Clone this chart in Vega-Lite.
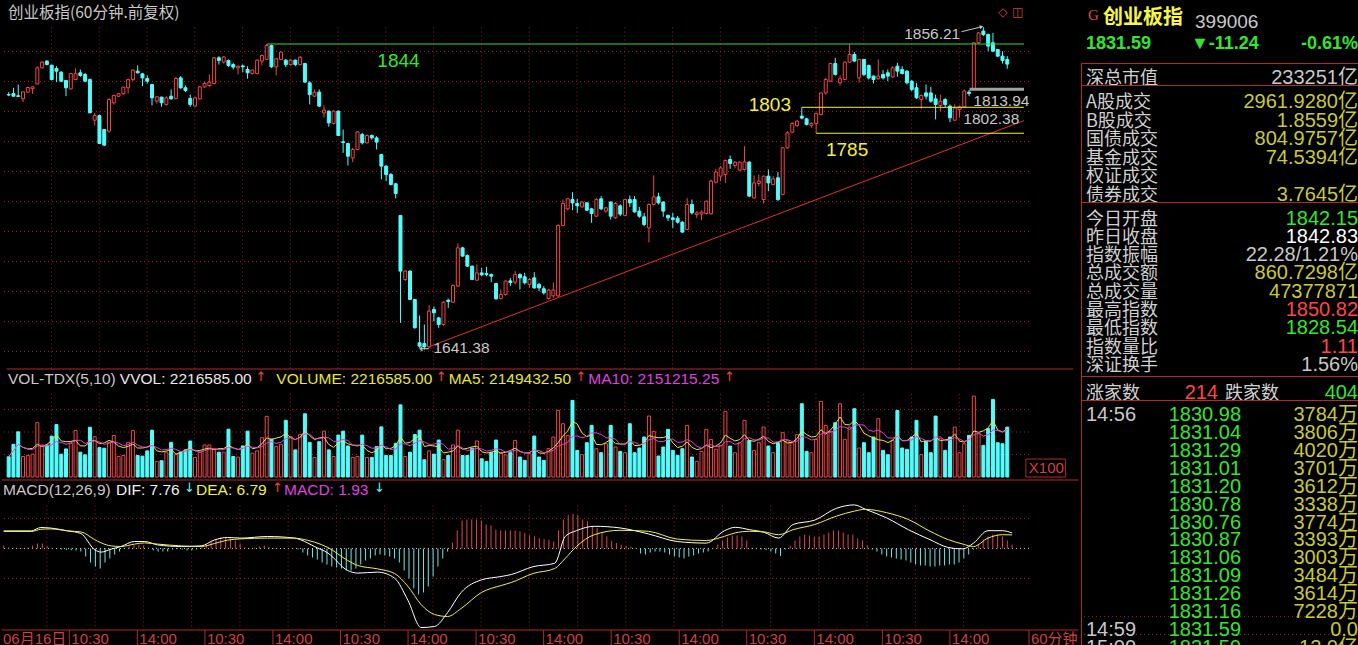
{
"$schema": "https://vega.github.io/schema/vega-lite/v6.json",
"background": "#000000",
"padding": 0,
"spacing": 0,
"resolve": {"scale": {"x": "independent", "y": "independent", "color": "independent"}},
"config": {"view": {"stroke": null}, "text": {"font": "Liberation Sans"}},
"datasets": {
"k": [
{"i":0,"o":1811.3,"h":1812.9,"l":1810.2,"c":1811,"v":8980,"m":1.5},
{"i":1,"o":1812,"h":1815.8,"l":1809.8,"c":1810.2,"v":14530,"m":0.5},
{"i":2,"o":1810.5,"h":1818,"l":1809.8,"c":1810,"v":20080,"m":0.3},
{"i":3,"o":1808.4,"h":1813.1,"l":1806.2,"c":1813.1,"v":9130,"m":0.2},
{"i":4,"o":1812.9,"h":1816.4,"l":1812.4,"c":1816,"v":9560,"m":0.3},
{"i":5,"o":1815.2,"h":1816.9,"l":1811.8,"c":1816.4,"v":10150,"m":0.5},
{"i":6,"o":1818.4,"h":1830.2,"l":1818,"c":1829.1,"v":24160,"m":1.5},
{"i":7,"o":1829.1,"h":1833.6,"l":1828.7,"c":1832.9,"v":14240,"m":2.5},
{"i":8,"o":1833.6,"h":1834.2,"l":1830.7,"c":1831.3,"v":14240,"m":2.5},
{"i":9,"o":1830.9,"h":1831,"l":1820.7,"c":1821.3,"v":18180,"m":1},
{"i":10,"o":1828.7,"h":1830.2,"l":1819.6,"c":1826.9,"v":23290,"m":0.3},
{"i":11,"o":1826.2,"h":1826.9,"l":1819.6,"c":1820.2,"v":10150,"m":-0.3},
{"i":12,"o":1820.7,"h":1820.7,"l":1810.2,"c":1815.8,"v":12480,"m":-0.5},
{"i":13,"o":1815.1,"h":1825.3,"l":1814.7,"c":1825.3,"v":14970,"m":-0.7},
{"i":14,"o":1821.3,"h":1828.7,"l":1820.9,"c":1825.3,"v":20660,"m":-0.8},
{"i":15,"o":1825.8,"h":1828,"l":1823.1,"c":1824,"v":11020,"m":-1},
{"i":16,"o":1824.7,"h":1825.8,"l":1819.6,"c":1820.2,"v":9860,"m":-1.5},
{"i":17,"o":1821.3,"h":1822,"l":1799,"c":1799.1,"v":22120,"m":-4},
{"i":18,"o":1794.2,"h":1799.1,"l":1790.7,"c":1797.3,"v":17890,"m":-7},
{"i":19,"o":1797.3,"h":1798,"l":1778.5,"c":1778.7,"v":13070,"m":-9},
{"i":20,"o":1788,"h":1788,"l":1776.9,"c":1777.6,"v":12780,"m":-10},
{"i":21,"o":1786.9,"h":1808.9,"l":1785.8,"c":1808,"v":15400,"m":-7},
{"i":22,"o":1805.8,"h":1811.3,"l":1804.7,"c":1810.7,"v":18470,"m":-5},
{"i":23,"o":1810.2,"h":1812.4,"l":1809.6,"c":1811.8,"v":9130,"m":-3},
{"i":24,"o":1811.8,"h":1816.4,"l":1811.3,"c":1816.2,"v":9560,"m":-1.5},
{"i":25,"o":1815.8,"h":1821.8,"l":1812,"c":1821.3,"v":15400,"m":-0.3},
{"i":26,"o":1821.3,"h":1828,"l":1820.2,"c":1827.6,"v":20660,"m":1},
{"i":27,"o":1826.9,"h":1830.7,"l":1825.3,"c":1825.8,"v":9560,"m":2},
{"i":28,"o":1825.1,"h":1825.8,"l":1816.9,"c":1822.4,"v":9270,"m":2},
{"i":29,"o":1822,"h":1824,"l":1818.7,"c":1820.2,"v":11610,"m":1.5},
{"i":30,"o":1818,"h":1818.4,"l":1804,"c":1809.1,"v":20810,"m":0.5},
{"i":31,"o":1806.9,"h":1810.2,"l":1805.3,"c":1809.8,"v":6940,"m":-1},
{"i":32,"o":1809.6,"h":1809.8,"l":1803.1,"c":1805.8,"v":7230,"m":-1.5},
{"i":33,"o":1804.7,"h":1810.2,"l":1804,"c":1809.1,"v":11020,"m":-1.5},
{"i":34,"o":1810.2,"h":1814.7,"l":1808,"c":1808.4,"v":15400,"m":-1.5},
{"i":35,"o":1808.7,"h":1823.1,"l":1808,"c":1822,"v":10150,"m":-0.5},
{"i":36,"o":1822.4,"h":1823.6,"l":1815.1,"c":1815.8,"v":11020,"m":-0.3},
{"i":37,"o":1815.8,"h":1817.3,"l":1812.9,"c":1814,"v":12050,"m":-0.5},
{"i":38,"o":1808.7,"h":1811.3,"l":1803.1,"c":1804.7,"v":15990,"m":-1},
{"i":39,"o":1803.6,"h":1809.8,"l":1803.1,"c":1809.1,"v":8690,"m":-1},
{"i":40,"o":1808.4,"h":1816.9,"l":1808,"c":1816.4,"v":11020,"m":-0.5},
{"i":41,"o":1816.4,"h":1819.6,"l":1815.8,"c":1818.7,"v":14240,"m":0.5},
{"i":42,"o":1817.3,"h":1824.7,"l":1816.4,"c":1819.6,"v":14240,"m":2},
{"i":43,"o":1818.7,"h":1836.2,"l":1818,"c":1835.8,"v":12480,"m":3.5},
{"i":44,"o":1835.8,"h":1836.9,"l":1831.3,"c":1834,"v":11020,"m":4.5},
{"i":45,"o":1832.9,"h":1836.9,"l":1832,"c":1836.4,"v":11020,"m":5.5},
{"i":46,"o":1834,"h":1834.7,"l":1829.6,"c":1830.7,"v":21240,"m":5.5},
{"i":47,"o":1831.3,"h":1832.4,"l":1828,"c":1829.6,"v":9130,"m":5},
{"i":48,"o":1829.1,"h":1830.7,"l":1824.7,"c":1830.2,"v":8830,"m":4},
{"i":49,"o":1830.4,"h":1831.3,"l":1826.2,"c":1829.8,"v":13800,"m":2.5},
{"i":50,"o":1828,"h":1830.2,"l":1821.8,"c":1825.8,"v":20370,"m":0.5},
{"i":51,"o":1825.3,"h":1828,"l":1824.7,"c":1827.6,"v":10590,"m":0.3},
{"i":52,"o":1825.3,"h":1834.7,"l":1824.7,"c":1834.2,"v":11610,"m":0.5},
{"i":53,"o":1833.6,"h":1838,"l":1830.7,"c":1837.3,"v":17450,"m":1},
{"i":54,"o":1834.7,"h":1845,"l":1834.2,"c":1844,"v":26940,"m":1.5},
{"i":55,"o":1844,"h":1844.6,"l":1829.1,"c":1829.8,"v":16860,"m":0.8},
{"i":56,"o":1829.8,"h":1835.8,"l":1824,"c":1835.1,"v":13510,"m":0.3},
{"i":57,"o":1834.7,"h":1840.2,"l":1834.2,"c":1839.6,"v":14530,"m":0.2},
{"i":58,"o":1834.2,"h":1835.1,"l":1829.6,"c":1831.3,"v":25190,"m":0.2},
{"i":59,"o":1831.3,"h":1835.1,"l":1830.7,"c":1834.2,"v":17890,"m":0.2},
{"i":60,"o":1834.2,"h":1834.7,"l":1830.2,"c":1831.3,"v":12050,"m":0.1},
{"i":61,"o":1831.3,"h":1836.9,"l":1830.7,"c":1836.2,"v":18910,"m":-0.5},
{"i":62,"o":1832,"h":1832.4,"l":1819.1,"c":1819.6,"v":28110,"m":-2},
{"i":63,"o":1819.1,"h":1820.2,"l":1804.7,"c":1811.3,"v":15400,"m":-3.5},
{"i":64,"o":1810.2,"h":1814.7,"l":1809.8,"c":1812.9,"v":8690,"m":-4.5},
{"i":65,"o":1812.9,"h":1814.7,"l":1803.1,"c":1803.6,"v":15700,"m":-5.5},
{"i":66,"o":1799.1,"h":1804,"l":1795.8,"c":1800.9,"v":20370,"m":-7},
{"i":67,"o":1800.2,"h":1800.7,"l":1789.8,"c":1792.4,"v":12050,"m":-8},
{"i":68,"o":1792,"h":1800.7,"l":1791.3,"c":1800.2,"v":9130,"m":-9},
{"i":69,"o":1800.2,"h":1800.7,"l":1783.6,"c":1784,"v":18620,"m":-9.5},
{"i":70,"o":1779.8,"h":1788,"l":1772.4,"c":1779.3,"v":20370,"m":-10},
{"i":71,"o":1778.7,"h":1779.1,"l":1764,"c":1770.2,"v":13800,"m":-11},
{"i":72,"o":1769.1,"h":1775.8,"l":1766.2,"c":1774.7,"v":8690,"m":-11},
{"i":73,"o":1774.7,"h":1786.9,"l":1774.2,"c":1786.4,"v":9130,"m":-10},
{"i":74,"o":1784.7,"h":1785.8,"l":1778,"c":1779.1,"v":18620,"m":-8},
{"i":75,"o":1779.1,"h":1784.7,"l":1778.7,"c":1784,"v":8690,"m":-6},
{"i":76,"o":1784,"h":1784.7,"l":1781.3,"c":1782.4,"v":8690,"m":-5},
{"i":77,"o":1782.4,"h":1783.6,"l":1774.7,"c":1779.6,"v":13510,"m":-3.5},
{"i":78,"o":1771.3,"h":1771.8,"l":1754.7,"c":1763.6,"v":22270,"m":-3},
{"i":79,"o":1763.6,"h":1764.2,"l":1753.6,"c":1758,"v":9560,"m":-3.5},
{"i":80,"o":1758,"h":1759.1,"l":1750.7,"c":1751.3,"v":9560,"m":-4},
{"i":81,"o":1751.8,"h":1752.4,"l":1742,"c":1745.3,"v":14970,"m":-5},
{"i":82,"o":1730.7,"h":1730.7,"l":1659.1,"c":1693.6,"v":32050,"m":-7},
{"i":83,"o":1688,"h":1694,"l":1687,"c":1693.6,"v":9130,"m":-11},
{"i":84,"o":1693.6,"h":1694.2,"l":1674.7,"c":1674.7,"v":11020,"m":-15},
{"i":85,"o":1674.7,"h":1675,"l":1655.3,"c":1655.8,"v":18910,"m":-20},
{"i":86,"o":1645.8,"h":1664,"l":1642.4,"c":1643.6,"v":20810,"m":-23},
{"i":87,"o":1645.3,"h":1658,"l":1641.38,"c":1643.1,"v":7670,"m":-22},
{"i":88,"o":1643.1,"h":1670.7,"l":1642.4,"c":1666.9,"v":11610,"m":-19},
{"i":89,"o":1668,"h":1670,"l":1660,"c":1665.8,"v":10150,"m":-14},
{"i":90,"o":1662.4,"h":1663.1,"l":1655.8,"c":1658,"v":16430,"m":-9},
{"i":91,"o":1658,"h":1673.6,"l":1657.3,"c":1672.9,"v":7670,"m":-5},
{"i":92,"o":1674.2,"h":1675.3,"l":1669.1,"c":1673.3,"v":9560,"m":-1.5},
{"i":93,"o":1672.9,"h":1684.7,"l":1672.4,"c":1684,"v":14240,"m":3},
{"i":94,"o":1683.6,"h":1712,"l":1683.1,"c":1709.1,"v":20810,"m":9},
{"i":95,"o":1709.1,"h":1709.8,"l":1703.1,"c":1703.6,"v":9560,"m":14},
{"i":96,"o":1704,"h":1704.7,"l":1696.4,"c":1696.9,"v":9560,"m":14.5},
{"i":97,"o":1696.9,"h":1697.3,"l":1687.6,"c":1688,"v":12780,"m":14.5},
{"i":98,"o":1687.6,"h":1698,"l":1687,"c":1692.4,"v":15990,"m":14.5},
{"i":99,"o":1692.4,"h":1695.8,"l":1690.2,"c":1691.1,"v":8100,"m":14},
{"i":100,"o":1692,"h":1696.4,"l":1690.2,"c":1691.3,"v":6940,"m":12},
{"i":101,"o":1691.3,"h":1692,"l":1686.2,"c":1690.2,"v":11020,"m":11.5},
{"i":102,"o":1685.3,"h":1685.8,"l":1674.7,"c":1675.1,"v":16430,"m":9.5},
{"i":103,"o":1675.3,"h":1681.3,"l":1674.7,"c":1678,"v":10590,"m":9},
{"i":104,"o":1678,"h":1687.6,"l":1677.3,"c":1686.9,"v":9860,"m":9},
{"i":105,"o":1687.1,"h":1689.1,"l":1683.6,"c":1686,"v":11020,"m":9},
{"i":106,"o":1686.2,"h":1693.6,"l":1684.7,"c":1691.3,"v":16280,"m":9},
{"i":107,"o":1691.3,"h":1692.4,"l":1681.3,"c":1689.1,"v":8880,"m":8.6},
{"i":108,"o":1689.8,"h":1692.4,"l":1684.7,"c":1685.8,"v":7400,"m":7.8},
{"i":109,"o":1684.7,"h":1689.1,"l":1682.4,"c":1688,"v":10360,"m":6.6},
{"i":110,"o":1689.1,"h":1692.9,"l":1681.8,"c":1682.4,"v":18200,"m":6.1},
{"i":111,"o":1684.7,"h":1685.8,"l":1680.2,"c":1682.4,"v":8880,"m":5.2},
{"i":112,"o":1681.8,"h":1683.6,"l":1678,"c":1679.1,"v":7400,"m":4.7},
{"i":113,"o":1675.3,"h":1681.8,"l":1674.7,"c":1680.9,"v":12580,"m":4.4},
{"i":114,"o":1677.1,"h":1686,"l":1675.8,"c":1680.9,"v":17760,"m":3.5},
{"i":115,"o":1677.1,"h":1724.7,"l":1675.8,"c":1724,"v":29600,"m":9.1},
{"i":116,"o":1724,"h":1741.3,"l":1723.6,"c":1738.7,"v":23680,"m":14.5},
{"i":117,"o":1735.1,"h":1742.4,"l":1734.2,"c":1741.8,"v":18500,"m":16.7},
{"i":118,"o":1741.3,"h":1746.2,"l":1734.2,"c":1739.1,"v":34040,"m":17.4},
{"i":119,"o":1738.7,"h":1741.8,"l":1732.4,"c":1737.1,"v":11840,"m":16.7},
{"i":120,"o":1736.4,"h":1740.2,"l":1735.8,"c":1739.6,"v":9920,"m":14.5},
{"i":121,"o":1739.1,"h":1739.6,"l":1733.6,"c":1734.2,"v":15240,"m":13.7},
{"i":122,"o":1735.1,"h":1735.8,"l":1725.8,"c":1732,"v":22940,"m":11.1},
{"i":123,"o":1730.2,"h":1742.2,"l":1729.8,"c":1741.3,"v":12580,"m":10.3},
{"i":124,"o":1741.8,"h":1743.6,"l":1734.2,"c":1735.1,"v":10800,"m":7.8},
{"i":125,"o":1733.6,"h":1736.4,"l":1732.4,"c":1735.8,"v":14800,"m":6.1},
{"i":126,"o":1739.6,"h":1740.2,"l":1728,"c":1730.2,"v":22940,"m":3.9},
{"i":127,"o":1729.1,"h":1739.6,"l":1728.4,"c":1738.7,"v":13320,"m":2.7},
{"i":128,"o":1737.1,"h":1738.2,"l":1730.2,"c":1731.6,"v":11400,"m":1.9},
{"i":129,"o":1730.7,"h":1741.8,"l":1730.2,"c":1741.3,"v":10800,"m":1.3},
{"i":130,"o":1741.3,"h":1744,"l":1736.4,"c":1739.1,"v":23680,"m":1},
{"i":131,"o":1741.3,"h":1743.6,"l":1732.4,"c":1733.1,"v":10800,"m":0.2},
{"i":132,"o":1733.6,"h":1736.4,"l":1729.1,"c":1730.2,"v":12880,"m":-2.5},
{"i":133,"o":1729.8,"h":1732.4,"l":1723.6,"c":1724.7,"v":17760,"m":-3},
{"i":134,"o":1722.4,"h":1738.7,"l":1712.7,"c":1738,"v":27080,"m":-2},
{"i":135,"o":1738,"h":1757.3,"l":1737.3,"c":1743.1,"v":20280,"m":-1.5},
{"i":136,"o":1743.1,"h":1745.8,"l":1738,"c":1739.1,"v":9320,"m":-1.5},
{"i":137,"o":1739.6,"h":1740.2,"l":1729.8,"c":1733.6,"v":13320,"m":-2},
{"i":138,"o":1730.7,"h":1731.3,"l":1726.9,"c":1729.1,"v":21160,"m":-3},
{"i":139,"o":1729.1,"h":1732.4,"l":1722.4,"c":1728,"v":11840,"m":-4},
{"i":140,"o":1728.9,"h":1730.4,"l":1725.3,"c":1726.2,"v":9620,"m":-4.5},
{"i":141,"o":1726.2,"h":1726.9,"l":1719.1,"c":1719.6,"v":12580,"m":-5},
{"i":142,"o":1721.3,"h":1742.4,"l":1720.9,"c":1738,"v":22940,"m":-4},
{"i":143,"o":1738,"h":1741.3,"l":1731.3,"c":1732.4,"v":8880,"m":-3.5},
{"i":144,"o":1731.3,"h":1733.6,"l":1729.1,"c":1732.4,"v":6960,"m":-2.5},
{"i":145,"o":1731.6,"h":1734,"l":1727.6,"c":1732.9,"v":11400,"m":-2},
{"i":146,"o":1732,"h":1740.7,"l":1731.3,"c":1740.2,"v":21160,"m":-1.5},
{"i":147,"o":1731.8,"h":1754.7,"l":1731.3,"c":1753.6,"v":16720,"m":0.3},
{"i":148,"o":1752.9,"h":1761.8,"l":1752,"c":1759.6,"v":12280,"m":2},
{"i":149,"o":1756.9,"h":1763.6,"l":1753.6,"c":1762.4,"v":14060,"m":4},
{"i":150,"o":1758,"h":1768,"l":1752.4,"c":1767.3,"v":29160,"m":5.5},
{"i":151,"o":1768,"h":1770.7,"l":1761.8,"c":1765.3,"v":13760,"m":6.5},
{"i":152,"o":1764,"h":1766.9,"l":1762.4,"c":1766.2,"v":10800,"m":6.5},
{"i":153,"o":1760.9,"h":1766.9,"l":1760.2,"c":1766.2,"v":15240,"m":6},
{"i":154,"o":1761.3,"h":1776.9,"l":1760.7,"c":1766.4,"v":25160,"m":4},
{"i":155,"o":1766.2,"h":1766.9,"l":1743.1,"c":1743.6,"v":16280,"m":0.3},
{"i":156,"o":1742.4,"h":1757.3,"l":1741.8,"c":1752.4,"v":11840,"m":-0.3},
{"i":157,"o":1752,"h":1758,"l":1750.2,"c":1753.6,"v":15240,"m":-0.5},
{"i":158,"o":1741.3,"h":1757.3,"l":1738.7,"c":1756.9,"v":22200,"m":-0.8},
{"i":159,"o":1756.9,"h":1761.3,"l":1746.9,"c":1752.4,"v":13760,"m":-1.5},
{"i":160,"o":1751.3,"h":1756.9,"l":1750.7,"c":1755.1,"v":10800,"m":-2.5},
{"i":161,"o":1755.8,"h":1759.6,"l":1740.2,"c":1741.3,"v":15240,"m":-3.8},
{"i":162,"o":1744.7,"h":1776.4,"l":1744,"c":1775.8,"v":19680,"m":-0.5},
{"i":163,"o":1775.8,"h":1786.9,"l":1775.1,"c":1785.8,"v":16280,"m":1.5},
{"i":164,"o":1786.2,"h":1792.9,"l":1785.8,"c":1792,"v":15240,"m":4},
{"i":165,"o":1790.7,"h":1794.2,"l":1789.8,"c":1793.6,"v":18800,"m":6},
{"i":166,"o":1796.9,"h":1802.8,"l":1794.7,"c":1795.6,"v":32560,"m":7},
{"i":167,"o":1795.1,"h":1795.8,"l":1790.7,"c":1791.3,"v":11400,"m":6.5},
{"i":168,"o":1790.7,"h":1792.9,"l":1789.1,"c":1792,"v":10800,"m":6},
{"i":169,"o":1792,"h":1799.1,"l":1785.5,"c":1798.7,"v":16720,"m":6},
{"i":170,"o":1798,"h":1812.9,"l":1797.3,"c":1812.4,"v":33600,"m":7},
{"i":171,"o":1812.4,"h":1822.4,"l":1811.3,"c":1821.3,"v":22940,"m":8},
{"i":172,"o":1820.2,"h":1832.4,"l":1819.6,"c":1832,"v":20280,"m":9},
{"i":173,"o":1832,"h":1835.8,"l":1824,"c":1824.7,"v":24120,"m":9},
{"i":174,"o":1819.1,"h":1824,"l":1817.3,"c":1821.8,"v":32560,"m":8},
{"i":175,"o":1821.3,"h":1833.6,"l":1820.9,"c":1832.9,"v":16720,"m":7},
{"i":176,"o":1832.9,"h":1845,"l":1832.4,"c":1838,"v":22200,"m":7},
{"i":177,"o":1838,"h":1839.6,"l":1832.9,"c":1833.6,"v":30340,"m":5},
{"i":178,"o":1822.4,"h":1835.1,"l":1819.1,"c":1834.7,"v":12880,"m":4},
{"i":179,"o":1834.7,"h":1835.1,"l":1823.6,"c":1824.7,"v":15240,"m":1.5},
{"i":180,"o":1830.7,"h":1831.3,"l":1821.3,"c":1822.4,"v":10800,"m":-0.5},
{"i":181,"o":1823.6,"h":1824,"l":1818.7,"c":1821.3,"v":17760,"m":-1.5},
{"i":182,"o":1821.8,"h":1834.7,"l":1821.3,"c":1823.6,"v":25900,"m":-3},
{"i":183,"o":1824.7,"h":1827.6,"l":1821.3,"c":1822.4,"v":11840,"m":-4},
{"i":184,"o":1825.8,"h":1828,"l":1820.2,"c":1823.6,"v":9920,"m":-4.5},
{"i":185,"o":1823.1,"h":1830.2,"l":1822.4,"c":1829.1,"v":16280,"m":-5},
{"i":186,"o":1830.2,"h":1832.4,"l":1823.1,"c":1826.9,"v":29600,"m":-5.5},
{"i":187,"o":1828,"h":1830.2,"l":1824.7,"c":1825.3,"v":12880,"m":-6},
{"i":188,"o":1826.9,"h":1827.6,"l":1818,"c":1819.1,"v":12280,"m":-7},
{"i":189,"o":1820.2,"h":1820.9,"l":1813.6,"c":1814.7,"v":17760,"m":-8},
{"i":190,"o":1815.8,"h":1819.1,"l":1808.4,"c":1809.1,"v":25160,"m":-8.5},
{"i":191,"o":1808,"h":1811.3,"l":1801.8,"c":1810.7,"v":9920,"m":-8.5},
{"i":192,"o":1812.4,"h":1818,"l":1808,"c":1810.2,"v":15840,"m":-9},
{"i":193,"o":1812.4,"h":1816.4,"l":1805.8,"c":1806.9,"v":10800,"m":-9},
{"i":194,"o":1808.4,"h":1811.3,"l":1794.7,"c":1804.7,"v":27080,"m":-8.5},
{"i":195,"o":1804,"h":1811.3,"l":1800.2,"c":1806.9,"v":17020,"m":-8.5},
{"i":196,"o":1808,"h":1808.9,"l":1803.1,"c":1804.7,"v":11840,"m":-8},
{"i":197,"o":1803.6,"h":1804.7,"l":1792.9,"c":1795.8,"v":17760,"m":-8},
{"i":198,"o":1794.2,"h":1804.7,"l":1793.6,"c":1802.4,"v":22200,"m":-7},
{"i":199,"o":1801.3,"h":1804,"l":1795.8,"c":1803.1,"v":10800,"m":-5},
{"i":200,"o":1803.1,"h":1814.7,"l":1802.38,"c":1813.6,"v":14800,"m":-3},
{"i":201,"o":1812.9,"h":1814.4,"l":1810.2,"c":1812,"v":18500,"m":-0.5},
{"i":202,"o":1815.1,"h":1846.2,"l":1814.7,"c":1845.8,"v":35960,"m":2},
{"i":203,"o":1845.8,"h":1852.9,"l":1845.3,"c":1852.4,"v":19240,"m":4.5},
{"i":204,"o":1853.6,"h":1856.21,"l":1850.2,"c":1851.3,"v":14060,"m":6},
{"i":205,"o":1851.3,"h":1852,"l":1840.2,"c":1843.6,"v":21460,"m":7},
{"i":206,"o":1845.8,"h":1852.4,"l":1839.6,"c":1840.2,"v":34480,"m":7},
{"i":207,"o":1841.3,"h":1841.8,"l":1836.4,"c":1836.9,"v":15240,"m":6},
{"i":208,"o":1836.9,"h":1840.2,"l":1832,"c":1834,"v":14800,"m":4},
{"i":209,"o":1834.7,"h":1836.9,"l":1828.5,"c":1831.6,"v":22166,"m":1.93}
],
"dd": [
{"i":0,"dif":8.8,"dea":8.5},{"i":5.7,"dif":8.8,"dea":8.5},{"i":7.7,"dif":10.5,"dea":9.6},{"i":9.8,"dif":10.2,"dea":9.8},{"i":13.3,"dif":8.8,"dea":8.8},{"i":16,"dif":7.5,"dea":8.3},{"i":18.8,"dif":-0.5,"dea":4.5},{"i":20.2,"dif":-1.8,"dea":2.8},{"i":22.3,"dif":-0.3,"dea":1.3},{"i":24.3,"dif":1,"dea":1},{"i":27.1,"dif":3.5,"dea":2.2},{"i":29.2,"dif":3.5,"dea":2.8},{"i":31.9,"dif":1.8,"dea":2.2},{"i":36.8,"dif":1,"dea":1.3},{"i":40.9,"dif":1.3,"dea":1},{"i":43.7,"dif":4.3,"dea":2.5},{"i":46.4,"dif":5.5,"dea":4.2},{"i":49.2,"dif":5.2,"dea":4.8},{"i":54.7,"dif":6,"dea":5.2},{"i":60.3,"dif":5.2,"dea":5.2},{"i":61.6,"dif":4.3,"dea":4.8},{"i":64.4,"dif":1,"dea":3.2},{"i":67.2,"dif":-2.3,"dea":0.5},{"i":71.3,"dif":-11,"dea":-6},{"i":73.4,"dif":-12.3,"dea":-8.5},{"i":77.5,"dif":-11.8,"dea":-10.2},{"i":81,"dif":-14.8,"dea":-12.5},{"i":83.8,"dif":-26,"dea":-19},{"i":86.5,"dif":-39.5,"dea":-28},{"i":89.3,"dif":-39,"dea":-33},{"i":92,"dif":-32,"dea":-34},{"i":94.8,"dif":-22,"dea":-30},{"i":99,"dif":-15.7,"dea":-22},{"i":103.1,"dif":-14,"dea":-18.5},{"i":105.2,"dif":-13,"dea":-17},{"i":109.7,"dif":-9.1,"dea":-12.5},{"i":114.2,"dif":-7.4,"dea":-10},{"i":116.4,"dif":6.1,"dea":-4.9},{"i":118.7,"dif":8.9,"dea":1},{"i":122.4,"dif":11.1,"dea":6.9},{"i":127.7,"dif":10.3,"dea":9.1},{"i":133.6,"dif":7.3,"dea":8.6},{"i":139.6,"dif":3.5,"dea":4.7},{"i":145.6,"dif":2.7,"dea":4},{"i":149.4,"dif":8.9,"dea":6.1},{"i":151.6,"dif":10.6,"dea":7.8},{"i":154.6,"dif":9.4,"dea":8.6},{"i":157.6,"dif":8.1,"dea":8.3},{"i":160.6,"dif":5.2,"dea":6.9},{"i":163.6,"dif":12,"dea":9.4},{"i":168.1,"dif":14.2,"dea":12},{"i":172.6,"dif":20.1,"dea":16.2},{"i":176.3,"dif":21.8,"dea":18.7},{"i":178.6,"dif":19.6,"dea":19.6},{"i":183,"dif":15.3,"dea":17.9},{"i":187.5,"dif":9.4,"dea":14.5},{"i":192,"dif":4.4,"dea":8.6},{"i":195.8,"dif":0.5,"dea":4.4},{"i":198.8,"dif":-0.2,"dea":2.2},{"i":201,"dif":2.7,"dea":1},{"i":204,"dif":8.9,"dea":5.2},{"i":207,"dif":8.9,"dea":6.9},{"i":209,"dif":7.76,"dea":6.79}
],
"tl": [
{"i":-0.56,"t":"06月16日"},{"i":13.6,"t":"10:30"},{"i":27.7,"t":"14:00"},{"i":41.7,"t":"10:30"},{"i":55.8,"t":"14:00"},{"i":69.8,"t":"10:30"},{"i":83.8,"t":"14:00"},{"i":97.9,"t":"10:30"},{"i":111.9,"t":"14:00"},{"i":125.9,"t":"10:30"},{"i":140,"t":"14:00"},{"i":154,"t":"10:30"},{"i":168,"t":"14:00"},{"i":182.1,"t":"10:30"},{"i":196.1,"t":"14:00"}
],
"vg": [
{"g":8.95},{"g":18.95},{"g":28.95},{"g":38.95},{"g":48.95},{"g":58.95},{"g":68.95},{"g":78.95},{"g":88.95},{"g":98.95},{"g":108.95},{"g":118.95},{"g":128.95},{"g":138.95},{"g":148.95},{"g":158.95},{"g":168.95},{"g":178.95},{"g":188.95},{"g":198.95}
]
},
"hconcat": [
{
"spacing": 0,
"bounds": "flush",
"resolve": {"scale": {"x": "independent", "y": "independent"}},
"vconcat": [
{
"width": 1028, "height": 369,
"data": {"name": "k"},
"layer": [
{"data": {"values": [{"p":1640},{"p":1660},{"p":1680},{"p":1700},{"p":1720},{"p":1740},{"p":1760},{"p":1780},{"p":1800},{"p":1820},{"p":1840}]},
 "mark": {"type": "rule", "color": "#9a2020", "strokeDash": [1, 3]},
 "encoding": {"y": {"field": "p", "type": "quantitative", "scale": {"domain": [1628.33, 1874.33], "nice": false, "zero": false},
   "axis": {"orient": "right", "values": [1640,1660,1680,1700,1720,1740,1760,1780,1800,1820,1840,1860], "title": null, "grid": false, "domainColor": "#b42828", "tickColor": "#b42828", "tickSize": 5, "labelColor": "#d04040", "labelFont": "Liberation Sans", "labelFontSize": 16, "labelAlign": "right", "labelPadding": 43, "format": "d", "labelOverlap": false}}}},
{"data": {"name": "vg"},
 "mark": {"type": "rule", "color": "#9a2020", "strokeDash": [1, 3]},
 "encoding": {"x": {"field": "g", "type": "quantitative", "scale": {"domain": [-0.56, 212.5], "nice": false, "zero": false}, "axis": null},
   "y": {"datum": 1856, "type": "quantitative", "scale": {"domain": [1628.33, 1874.33], "nice": false, "zero": false}, "axis": null}, "y2": {"datum": 1628.33}}},
{"data": {"values": [{}]},
 "mark": {"type": "text", "text": "创业板指(60分钟.前复权)", "align": "left", "baseline": "top", "dx": 2, "dy": 6, "font": "Noto Sans CJK SC", "fontSize": 15.5, "color": "#c8c8c8"},
 "encoding": {"x": {"datum": -0.56, "type": "quantitative", "scale": {"domain": [-0.56, 212.5], "nice": false, "zero": false}, "axis": null},
   "y": {"datum": 1874.33, "type": "quantitative", "scale": {"domain": [1628.33, 1874.33], "nice": false, "zero": false}, "axis": null}}},
{"mark": {"type": "rule", "strokeWidth": 1},
 "encoding": {"x": {"field": "i", "type": "quantitative", "scale": {"domain": [-0.56, 212.5], "nice": false, "zero": false}, "axis": null},
   "y": {"field": "l", "type": "quantitative", "scale": {"domain": [1628.33, 1874.33], "nice": false, "zero": false}, "axis": null}, "y2": {"field": "h"},
   "color": {"condition": {"test": "datum.c >= datum.o", "value": "#f04646"}, "value": "#54fcfc"}}},
{"mark": {"type": "bar", "size": 3, "strokeWidth": 1},
 "encoding": {"x": {"field": "i", "type": "quantitative", "scale": {"domain": [-0.56, 212.5], "nice": false, "zero": false}, "axis": null},
   "y": {"field": "o", "type": "quantitative", "scale": {"domain": [1628.33, 1874.33], "nice": false, "zero": false}, "axis": null}, "y2": {"field": "c"},
   "fill": {"condition": {"test": "datum.c >= datum.o", "value": "#000000"}, "value": "#54fcfc"},
   "stroke": {"condition": {"test": "datum.c >= datum.o", "value": "#f04646"}, "value": "#54fcfc"}}},
{"data": {"values": [{}]},
 "mark": {"type": "rule", "color": "#e03030", "strokeWidth": 1},
 "encoding": {"x": {"datum": 88, "type": "quantitative", "scale": {"domain": [-0.56, 212.5], "nice": false, "zero": false}, "axis": null}, "x2": {"datum": 212.5},
   "y": {"datum": 1643.2, "type": "quantitative", "scale": {"domain": [1628.33, 1874.33], "nice": false, "zero": false}, "axis": null}, "y2": {"datum": 1793.9}}},
{"data": {"values": [{}]},
 "mark": {"type": "rule", "color": "#30dc30", "strokeWidth": 1},
 "encoding": {"x": {"datum": 54, "type": "quantitative", "scale": {"domain": [-0.56, 212.5], "nice": false, "zero": false}, "axis": null}, "x2": {"datum": 212.5},
   "y": {"datum": 1845, "type": "quantitative", "scale": {"domain": [1628.33, 1874.33], "nice": false, "zero": false}, "axis": null}}},
{"data": {"values": [{}]},
 "mark": {"type": "rule", "color": "#f0f046", "strokeWidth": 1},
 "encoding": {"x": {"datum": 166, "type": "quantitative", "scale": {"domain": [-0.56, 212.5], "nice": false, "zero": false}, "axis": null}, "x2": {"datum": 212.5},
   "y": {"datum": 1802.8, "type": "quantitative", "scale": {"domain": [1628.33, 1874.33], "nice": false, "zero": false}, "axis": null}}},
{"data": {"values": [{}]},
 "mark": {"type": "rule", "color": "#f0f046", "strokeWidth": 1},
 "encoding": {"x": {"datum": 169, "type": "quantitative", "scale": {"domain": [-0.56, 212.5], "nice": false, "zero": false}, "axis": null}, "x2": {"datum": 212.5},
   "y": {"datum": 1785.5, "type": "quantitative", "scale": {"domain": [1628.33, 1874.33], "nice": false, "zero": false}, "axis": null}}},
{"data": {"values": [{}]},
 "mark": {"type": "rule", "color": "#a0a0a0", "strokeWidth": 3},
 "encoding": {"x": {"datum": 201.1, "type": "quantitative", "scale": {"domain": [-0.56, 212.5], "nice": false, "zero": false}, "axis": null}, "x2": {"datum": 212.5},
   "y": {"datum": 1814.8, "type": "quantitative", "scale": {"domain": [1628.33, 1874.33], "nice": false, "zero": false}, "axis": null}}},
{"data": {"values": [{}]},
 "mark": {"type": "text", "text": "1844", "align": "left", "baseline": "middle", "font": "Liberation Sans", "fontSize": 19, "color": "#32e632"},
 "encoding": {"x": {"datum": 77.16, "type": "quantitative", "scale": {"domain": [-0.56, 212.5], "nice": false, "zero": false}, "axis": null},
   "y": {"datum": 1833.7, "type": "quantitative", "scale": {"domain": [1628.33, 1874.33], "nice": false, "zero": false}, "axis": null}}},
{"data": {"values": [{}]},
 "mark": {"type": "text", "text": "1803", "align": "left", "baseline": "middle", "font": "Liberation Sans", "fontSize": 19, "color": "#f0f046"},
 "encoding": {"x": {"datum": 154.88, "type": "quantitative", "scale": {"domain": [-0.56, 212.5], "nice": false, "zero": false}, "axis": null},
   "y": {"datum": 1804.66, "type": "quantitative", "scale": {"domain": [1628.33, 1874.33], "nice": false, "zero": false}, "axis": null}}},
{"data": {"values": [{}]},
 "mark": {"type": "text", "text": "1785", "align": "left", "baseline": "middle", "font": "Liberation Sans", "fontSize": 19, "color": "#f0f046"},
 "encoding": {"x": {"datum": 171.05, "type": "quantitative", "scale": {"domain": [-0.56, 212.5], "nice": false, "zero": false}, "axis": null},
   "y": {"datum": 1774.66, "type": "quantitative", "scale": {"domain": [1628.33, 1874.33], "nice": false, "zero": false}, "axis": null}}},
{"data": {"values": [{}]},
 "mark": {"type": "text", "text": "1856.21", "align": "left", "baseline": "middle", "font": "Liberation Sans", "fontSize": 15.5, "color": "#c8c8c8"},
 "encoding": {"x": {"datum": 187.42, "type": "quantitative", "scale": {"domain": [-0.56, 212.5], "nice": false, "zero": false}, "axis": null},
   "y": {"datum": 1851.66, "type": "quantitative", "scale": {"domain": [1628.33, 1874.33], "nice": false, "zero": false}, "axis": null}}},
{"data": {"values": [{}]},
 "mark": {"type": "rule", "color": "#c8c8c8", "strokeWidth": 1},
 "encoding": {"x": {"datum": 199.44, "type": "quantitative", "scale": {"domain": [-0.56, 212.5], "nice": false, "zero": false}, "axis": null}, "x2": {"datum": 203.4},
   "y": {"datum": 1853.2, "type": "quantitative", "scale": {"domain": [1628.33, 1874.33], "nice": false, "zero": false}, "axis": null}, "y2": {"datum": 1856.3}}},
{"data": {"values": [{}]},
 "mark": {"type": "point", "shape": "triangle-right", "filled": true, "size": 18, "angle": -14, "color": "#c8c8c8", "opacity": 1},
 "encoding": {"x": {"datum": 203.6, "type": "quantitative", "scale": {"domain": [-0.56, 212.5], "nice": false, "zero": false}, "axis": null},
   "y": {"datum": 1856.5, "type": "quantitative", "scale": {"domain": [1628.33, 1874.33], "nice": false, "zero": false}, "axis": null}}},
{"data": {"values": [{}]},
 "mark": {"type": "text", "text": "1813.94", "align": "left", "baseline": "middle", "font": "Liberation Sans", "fontSize": 15.5, "color": "#c8c8c8", "clip": true},
 "encoding": {"x": {"datum": 201.9, "type": "quantitative", "scale": {"domain": [-0.56, 212.5], "nice": false, "zero": false}, "axis": null},
   "y": {"datum": 1807, "type": "quantitative", "scale": {"domain": [1628.33, 1874.33], "nice": false, "zero": false}, "axis": null}}},
{"data": {"values": [{}]},
 "mark": {"type": "text", "text": "1802.38", "align": "left", "baseline": "middle", "font": "Liberation Sans", "fontSize": 15.5, "color": "#c8c8c8"},
 "encoding": {"x": {"datum": 199.8, "type": "quantitative", "scale": {"domain": [-0.56, 212.5], "nice": false, "zero": false}, "axis": null},
   "y": {"datum": 1795.3, "type": "quantitative", "scale": {"domain": [1628.33, 1874.33], "nice": false, "zero": false}, "axis": null}}},
{"data": {"values": [{}]},
 "mark": {"type": "text", "text": "1641.38", "align": "left", "baseline": "middle", "font": "Liberation Sans", "fontSize": 15.5, "color": "#c8c8c8"},
 "encoding": {"x": {"datum": 88.91, "type": "quantitative", "scale": {"domain": [-0.56, 212.5], "nice": false, "zero": false}, "axis": null},
   "y": {"datum": 1642.1, "type": "quantitative", "scale": {"domain": [1628.33, 1874.33], "nice": false, "zero": false}, "axis": null}}},
{"data": {"values": [{}]},
 "mark": {"type": "text", "text": "←", "align": "left", "baseline": "middle", "font": "DejaVu Sans", "fontSize": 13, "color": "#c8c8c8"},
 "encoding": {"x": {"datum": 85.9, "type": "quantitative", "scale": {"domain": [-0.56, 212.5], "nice": false, "zero": false}, "axis": null},
   "y": {"datum": 1641.6, "type": "quantitative", "scale": {"domain": [1628.33, 1874.33], "nice": false, "zero": false}, "axis": null}}},
{"data": {"values": [{}]},
 "mark": {"type": "text", "text": "◇", "align": "left", "baseline": "middle", "font": "DejaVu Sans", "fontSize": 12, "color": "#d04040"},
 "encoding": {"x": {"datum": 207.1, "type": "quantitative", "scale": {"domain": [-0.56, 212.5], "nice": false, "zero": false}, "axis": null},
   "y": {"datum": 1866, "type": "quantitative", "scale": {"domain": [1628.33, 1874.33], "nice": false, "zero": false}, "axis": null}}},
{"data": {"values": [{}]},
 "mark": {"type": "text", "text": "◫", "align": "left", "baseline": "middle", "font": "DejaVu Sans", "fontSize": 12, "color": "#d04040"},
 "encoding": {"x": {"datum": 210.0, "type": "quantitative", "scale": {"domain": [-0.56, 212.5], "nice": false, "zero": false}, "axis": null},
   "y": {"datum": 1866, "type": "quantitative", "scale": {"domain": [1628.33, 1874.33], "nice": false, "zero": false}, "axis": null}}}
]
},
{
"width": 1028, "height": 111,
"data": {"name": "k"},
"layer": [
{"data": {"values": [{"p":10000},{"p":20000},{"p":30000}]},
 "mark": {"type": "rule", "color": "#9a2020", "strokeDash": [1, 3]},
 "encoding": {"y": {"field": "p", "type": "quantitative", "scale": {"domain": [-1333.3, 48000], "nice": false, "zero": false},
   "axis": {"orient": "right", "values": [10000, 20000, 30000], "title": null, "grid": false, "domainColor": "#b42828", "tickColor": "#b42828", "tickSize": 5, "labelColor": "#d04040", "labelFont": "Liberation Sans", "labelFontSize": 15.5, "labelAlign": "right", "labelPadding": 43, "format": "d", "labelOverlap": false}}}},
{"data": {"values": [{}]},
 "mark": {"type": "rule", "color": "#b42828", "strokeWidth": 1},
 "encoding": {"x": {"datum": -0.456, "type": "quantitative", "scale": {"domain": [-0.56, 212.5], "nice": false, "zero": false}, "axis": null}, "x2": {"datum": 222.76},
   "y": {"datum": 48000, "type": "quantitative", "scale": {"domain": [-1333.3, 48000], "nice": false, "zero": false}, "axis": null}}},
{"data": {"name": "vg"},
 "mark": {"type": "rule", "color": "#9a2020", "strokeDash": [1, 3]},
 "encoding": {"x": {"field": "g", "type": "quantitative", "scale": {"domain": [-0.56, 212.5], "nice": false, "zero": false}, "axis": null},
   "y": {"datum": 37000, "type": "quantitative", "scale": {"domain": [-1333.3, 48000], "nice": false, "zero": false}, "axis": null}, "y2": {"datum": -1333.3}}},
{"mark": {"type": "bar", "size": 3, "strokeWidth": 1},
 "encoding": {"x": {"field": "i", "type": "quantitative", "scale": {"domain": [-0.56, 212.5], "nice": false, "zero": false}, "axis": null},
   "y": {"field": "v", "type": "quantitative", "scale": {"domain": [-1333.3, 48000], "nice": false, "zero": false}, "axis": null}, "y2": {"datum": 0},
   "fill": {"condition": {"test": "datum.c >= datum.o", "value": "#000000"}, "value": "#54fcfc"},
   "stroke": {"condition": {"test": "datum.c >= datum.o", "value": "#f04646"}, "value": "#54fcfc"}}},
{"transform": [{"window": [{"op": "mean", "field": "v", "as": "ma5"}], "frame": [-4, 0], "sort": [{"field": "i"}]}],
 "mark": {"type": "line", "color": "#e6e63c", "strokeWidth": 1},
 "encoding": {"x": {"field": "i", "type": "quantitative", "scale": {"domain": [-0.56, 212.5], "nice": false, "zero": false}, "axis": null},
   "y": {"field": "ma5", "type": "quantitative", "scale": {"domain": [-1333.3, 48000], "nice": false, "zero": false}, "axis": null}}},
{"transform": [{"window": [{"op": "mean", "field": "v", "as": "ma10"}], "frame": [-9, 0], "sort": [{"field": "i"}]}],
 "mark": {"type": "line", "color": "#e040e0", "strokeWidth": 1},
 "encoding": {"x": {"field": "i", "type": "quantitative", "scale": {"domain": [-0.56, 212.5], "nice": false, "zero": false}, "axis": null},
   "y": {"field": "ma10", "type": "quantitative", "scale": {"domain": [-1333.3, 48000], "nice": false, "zero": false}, "axis": null}}},
{"data": {"values": [{}]},
 "mark": {"type": "text", "text": "VOL-TDX(5,10)", "align": "left", "baseline": "top", "dx": 2, "dy": 3, "font": "Liberation Sans", "fontSize": 15.5, "color": "#c8c8c8"},
 "encoding": {"x": {"datum": -0.56, "type": "quantitative", "scale": {"domain": [-0.56, 212.5], "nice": false, "zero": false}, "axis": null},
   "y": {"datum": 48000, "type": "quantitative", "scale": {"domain": [-1333.3, 48000], "nice": false, "zero": false}, "axis": null}}},
{"data": {"values": [{}]},
 "mark": {"type": "text", "text": "VVOL: 2216585.00", "align": "left", "baseline": "top", "dy": 3, "font": "Liberation Sans", "fontSize": 15.5, "color": "#e8e8e8"},
 "encoding": {"x": {"datum": 23.27, "type": "quantitative", "scale": {"domain": [-0.56, 212.5], "nice": false, "zero": false}, "axis": null},
   "y": {"datum": 48000, "type": "quantitative", "scale": {"domain": [-1333.3, 48000], "nice": false, "zero": false}, "axis": null}}},
{"data": {"values": [{}]},
 "mark": {"type": "text", "text": "↑", "align": "left", "baseline": "top", "dy": 2, "font": "DejaVu Sans", "fontSize": 13, "color": "#f04646"},
 "encoding": {"x": {"datum": 51.67, "type": "quantitative", "scale": {"domain": [-0.56, 212.5], "nice": false, "zero": false}, "axis": null},
   "y": {"datum": 48000, "type": "quantitative", "scale": {"domain": [-1333.3, 48000], "nice": false, "zero": false}, "axis": null}}},
{"data": {"values": [{}]},
 "mark": {"type": "text", "text": "VOLUME: 2216585.00", "align": "left", "baseline": "top", "dy": 3, "font": "Liberation Sans", "fontSize": 15.5, "color": "#e6e63c"},
 "encoding": {"x": {"datum": 56.02, "type": "quantitative", "scale": {"domain": [-0.56, 212.5], "nice": false, "zero": false}, "axis": null},
   "y": {"datum": 48000, "type": "quantitative", "scale": {"domain": [-1333.3, 48000], "nice": false, "zero": false}, "axis": null}}},
{"data": {"values": [{}]},
 "mark": {"type": "text", "text": "↑", "align": "left", "baseline": "top", "dy": 2, "font": "DejaVu Sans", "fontSize": 13, "color": "#f04646"},
 "encoding": {"x": {"datum": 89.39, "type": "quantitative", "scale": {"domain": [-0.56, 212.5], "nice": false, "zero": false}, "axis": null},
   "y": {"datum": 48000, "type": "quantitative", "scale": {"domain": [-1333.3, 48000], "nice": false, "zero": false}, "axis": null}}},
{"data": {"values": [{}]},
 "mark": {"type": "text", "text": "MA5: 2149432.50", "align": "left", "baseline": "top", "dy": 3, "font": "Liberation Sans", "fontSize": 15.5, "color": "#e6e63c"},
 "encoding": {"x": {"datum": 92.08, "type": "quantitative", "scale": {"domain": [-0.56, 212.5], "nice": false, "zero": false}, "axis": null},
   "y": {"datum": 48000, "type": "quantitative", "scale": {"domain": [-1333.3, 48000], "nice": false, "zero": false}, "axis": null}}},
{"data": {"values": [{}]},
 "mark": {"type": "text", "text": "↑", "align": "left", "baseline": "top", "dy": 2, "font": "DejaVu Sans", "fontSize": 13, "color": "#f04646"},
 "encoding": {"x": {"datum": 118.61, "type": "quantitative", "scale": {"domain": [-0.56, 212.5], "nice": false, "zero": false}, "axis": null},
   "y": {"datum": 48000, "type": "quantitative", "scale": {"domain": [-1333.3, 48000], "nice": false, "zero": false}, "axis": null}}},
{"data": {"values": [{}]},
 "mark": {"type": "text", "text": "MA10: 2151215.25", "align": "left", "baseline": "top", "dy": 3, "font": "Liberation Sans", "fontSize": 15.5, "color": "#e040e0"},
 "encoding": {"x": {"datum": 121.31, "type": "quantitative", "scale": {"domain": [-0.56, 212.5], "nice": false, "zero": false}, "axis": null},
   "y": {"datum": 48000, "type": "quantitative", "scale": {"domain": [-1333.3, 48000], "nice": false, "zero": false}, "axis": null}}},
{"data": {"values": [{}]},
 "mark": {"type": "text", "text": "↑", "align": "left", "baseline": "top", "dy": 2, "font": "DejaVu Sans", "fontSize": 13, "color": "#f04646"},
 "encoding": {"x": {"datum": 149.7, "type": "quantitative", "scale": {"domain": [-0.56, 212.5], "nice": false, "zero": false}, "axis": null},
   "y": {"datum": 48000, "type": "quantitative", "scale": {"domain": [-1333.3, 48000], "nice": false, "zero": false}, "axis": null}}},
{"data": {"values": [{}]},
 "mark": {"type": "rect", "filled": false, "color": "#b42828", "strokeWidth": 1},
 "encoding": {"x": {"datum": 212.9, "type": "quantitative", "scale": {"domain": [-0.56, 212.5], "nice": false, "zero": false}, "axis": null}, "x2": {"datum": 221.2},
   "y": {"datum": 8000, "type": "quantitative", "scale": {"domain": [-1333.3, 48000], "nice": false, "zero": false}, "axis": null}, "y2": {"datum": 0}}},
{"data": {"values": [{}]},
 "mark": {"type": "text", "text": "X100", "align": "left", "baseline": "middle", "font": "Liberation Sans", "fontSize": 15, "color": "#d04040"},
 "encoding": {"x": {"datum": 213.5, "type": "quantitative", "scale": {"domain": [-0.56, 212.5], "nice": false, "zero": false}, "axis": null},
   "y": {"datum": 4000, "type": "quantitative", "scale": {"domain": [-1333.3, 48000], "nice": false, "zero": false}, "axis": null}}}
]
},
{
"width": 1028, "height": 150,
"data": {"name": "k"},
"layer": [
{"data": {"values": [{"p":-15},{"p":15}]},
 "mark": {"type": "rule", "color": "#9a2020", "strokeDash": [1, 3]},
 "encoding": {"y": {"field": "p", "type": "quantitative", "scale": {"domain": [-40.75, 34.25], "nice": false, "zero": false},
   "axis": {"orient": "right", "values": [-15, 0, 15], "title": null, "grid": false, "domainColor": "#b42828", "tickColor": "#b42828", "tickSize": 5, "labelColor": "#d04040", "labelFont": "Liberation Sans", "labelFontSize": 15, "labelAlign": "right", "labelPadding": 43, "format": ".2f", "labelOverlap": false}}}},
{"data": {"values": [{}]},
 "mark": {"type": "rule", "color": "#c8c8c8", "strokeDash": [1, 3]},
 "encoding": {"y": {"datum": 0, "type": "quantitative", "scale": {"domain": [-40.75, 34.25], "nice": false, "zero": false}, "axis": null}}},
{"data": {"values": [{}]},
 "mark": {"type": "rule", "color": "#b42828", "strokeWidth": 1},
 "encoding": {"x": {"datum": -0.456, "type": "quantitative", "scale": {"domain": [-0.56, 212.5], "nice": false, "zero": false}, "axis": null}, "x2": {"datum": 222.76},
   "y": {"datum": 34.25, "type": "quantitative", "scale": {"domain": [-40.75, 34.25], "nice": false, "zero": false}, "axis": null}}},
{"data": {"values": [{}]},
 "mark": {"type": "rule", "color": "#b42828", "strokeWidth": 1},
 "encoding": {"x": {"datum": -0.456, "type": "quantitative", "scale": {"domain": [-0.56, 212.5], "nice": false, "zero": false}, "axis": null}, "x2": {"datum": 222.76},
   "y": {"datum": -40.75, "type": "quantitative", "scale": {"domain": [-40.75, 34.25], "nice": false, "zero": false}, "axis": null}}},
{"data": {"name": "vg"},
 "mark": {"type": "rule", "color": "#9a2020", "strokeDash": [1, 3]},
 "encoding": {"x": {"field": "g", "type": "quantitative", "scale": {"domain": [-0.56, 212.5], "nice": false, "zero": false}, "axis": null},
   "y": {"datum": 21.5, "type": "quantitative", "scale": {"domain": [-40.75, 34.25], "nice": false, "zero": false}, "axis": null}, "y2": {"datum": -40.75}}},
{"mark": {"type": "rule", "strokeWidth": 1},
 "encoding": {"x": {"field": "i", "type": "quantitative", "scale": {"domain": [-0.56, 212.5], "nice": false, "zero": false}, "axis": null},
   "y": {"field": "m", "type": "quantitative", "scale": {"domain": [-40.75, 34.25], "nice": false, "zero": false}, "axis": null}, "y2": {"datum": 0},
   "color": {"condition": {"test": "datum.m >= 0", "value": "#e04848"}, "value": "#70e6e6"}}},
{"data": {"name": "dd"},
 "mark": {"type": "line", "color": "#ffffff", "strokeWidth": 1, "interpolate": "monotone"},
 "encoding": {"x": {"field": "i", "type": "quantitative", "scale": {"domain": [-0.56, 212.5], "nice": false, "zero": false}, "axis": null},
   "y": {"field": "dif", "type": "quantitative", "scale": {"domain": [-40.75, 34.25], "nice": false, "zero": false}, "axis": null}}},
{"data": {"name": "dd"},
 "mark": {"type": "line", "color": "#f0f046", "strokeWidth": 1, "interpolate": "monotone"},
 "encoding": {"x": {"field": "i", "type": "quantitative", "scale": {"domain": [-0.56, 212.5], "nice": false, "zero": false}, "axis": null},
   "y": {"field": "dea", "type": "quantitative", "scale": {"domain": [-40.75, 34.25], "nice": false, "zero": false}, "axis": null}}},
{"data": {"values": [{}]},
 "mark": {"type": "text", "text": "MACD(12,26,9)", "align": "left", "baseline": "top", "dx": 2, "dy": 3, "font": "Liberation Sans", "fontSize": 15.5, "color": "#c8c8c8"},
 "encoding": {"x": {"datum": -0.56, "type": "quantitative", "scale": {"domain": [-0.56, 212.5], "nice": false, "zero": false}, "axis": null},
   "y": {"datum": 34.25, "type": "quantitative", "scale": {"domain": [-40.75, 34.25], "nice": false, "zero": false}, "axis": null}}},
{"data": {"values": [{}]},
 "mark": {"type": "text", "text": "DIF: 7.76", "align": "left", "baseline": "top", "dy": 3, "font": "Liberation Sans", "fontSize": 15.5, "color": "#f0f0f0"},
 "encoding": {"x": {"datum": 23.27, "type": "quantitative", "scale": {"domain": [-0.56, 212.5], "nice": false, "zero": false}, "axis": null},
   "y": {"datum": 34.25, "type": "quantitative", "scale": {"domain": [-40.75, 34.25], "nice": false, "zero": false}, "axis": null}}},
{"data": {"values": [{}]},
 "mark": {"type": "text", "text": "↓", "align": "left", "baseline": "top", "dy": 2, "font": "DejaVu Sans", "fontSize": 13, "color": "#54fcfc"},
 "encoding": {"x": {"datum": 37.37, "type": "quantitative", "scale": {"domain": [-0.56, 212.5], "nice": false, "zero": false}, "axis": null},
   "y": {"datum": 34.25, "type": "quantitative", "scale": {"domain": [-40.75, 34.25], "nice": false, "zero": false}, "axis": null}}},
{"data": {"values": [{}]},
 "mark": {"type": "text", "text": "DEA: 6.79", "align": "left", "baseline": "top", "dy": 3, "font": "Liberation Sans", "fontSize": 15.5, "color": "#f0f046"},
 "encoding": {"x": {"datum": 39.86, "type": "quantitative", "scale": {"domain": [-0.56, 212.5], "nice": false, "zero": false}, "axis": null},
   "y": {"datum": 34.25, "type": "quantitative", "scale": {"domain": [-40.75, 34.25], "nice": false, "zero": false}, "axis": null}}},
{"data": {"values": [{}]},
 "mark": {"type": "text", "text": "↑", "align": "left", "baseline": "top", "dy": 2, "font": "DejaVu Sans", "fontSize": 13, "color": "#f04646"},
 "encoding": {"x": {"datum": 55.61, "type": "quantitative", "scale": {"domain": [-0.56, 212.5], "nice": false, "zero": false}, "axis": null},
   "y": {"datum": 34.25, "type": "quantitative", "scale": {"domain": [-40.75, 34.25], "nice": false, "zero": false}, "axis": null}}},
{"data": {"values": [{}]},
 "mark": {"type": "text", "text": "MACD: 1.93", "align": "left", "baseline": "top", "dy": 3, "font": "Liberation Sans", "fontSize": 15.5, "color": "#e040e0"},
 "encoding": {"x": {"datum": 58.09, "type": "quantitative", "scale": {"domain": [-0.56, 212.5], "nice": false, "zero": false}, "axis": null},
   "y": {"datum": 34.25, "type": "quantitative", "scale": {"domain": [-40.75, 34.25], "nice": false, "zero": false}, "axis": null}}},
{"data": {"values": [{}]},
 "mark": {"type": "text", "text": "↓", "align": "left", "baseline": "top", "dy": 2, "font": "DejaVu Sans", "fontSize": 13, "color": "#54fcfc"},
 "encoding": {"x": {"datum": 76.75, "type": "quantitative", "scale": {"domain": [-0.56, 212.5], "nice": false, "zero": false}, "axis": null},
   "y": {"datum": 34.25, "type": "quantitative", "scale": {"domain": [-40.75, 34.25], "nice": false, "zero": false}, "axis": null}}}
]
},
{
"width": 1028, "height": 15,
"data": {"name": "tl"},
"layer": [
{"transform": [{"filter": "datum.i > 0"}],
 "mark": {"type": "rule", "color": "#b42828", "strokeWidth": 1},
 "encoding": {"x": {"field": "i", "type": "quantitative", "scale": {"domain": [-0.56, 212.5], "nice": false, "zero": false}, "axis": null}}},
{"data": {"values": [{}]},
 "mark": {"type": "rule", "color": "#b42828", "strokeWidth": 1},
 "encoding": {"x": {"datum": 212.5, "type": "quantitative", "scale": {"domain": [-0.56, 212.5], "nice": false, "zero": false}, "axis": null}}},
{"mark": {"type": "text", "align": "left", "baseline": "middle", "dx": 2, "dy": 1, "font": "Liberation Sans, Noto Sans CJK SC", "fontSize": 15, "color": "#d04040"},
 "encoding": {"x": {"field": "i", "type": "quantitative", "scale": {"domain": [-0.56, 212.5], "nice": false, "zero": false}, "axis": null}, "text": {"field": "t"}}},
{"data": {"values": [{}]},
 "mark": {"type": "text", "text": "60分钟", "align": "left", "baseline": "middle", "dy": 1, "font": "Liberation Sans, Noto Sans CJK SC", "fontSize": 15, "color": "#d04040"},
 "encoding": {"x": {"datum": 212.9, "type": "quantitative", "scale": {"domain": [-0.56, 212.5], "nice": false, "zero": false}, "axis": null}}}
]
}
]
},
{
"spacing": 0,
"bounds": "flush",
"resolve": {"scale": {"x": "independent", "y": "independent", "color": "independent"}},
"vconcat": [
{
"width": 280, "height": 63,
"data": {"values": [{}]},
"layer": [
{"mark": {"type": "text", "text": "G", "align": "left", "baseline": "middle", "dx": 7, "dy": -3, "font": "Liberation Serif", "fontSize": 15, "color": "#e04848"},
 "encoding": {"x": {"datum": "a", "type": "nominal", "scale": {"type": "point", "domain": ["a","b","c"], "padding": 0}, "axis": null},
   "y": {"datum": "r1", "type": "nominal", "scale": {"type": "point", "domain": ["r1","r2"], "padding": 0.7115, "align": 0.473}, "axis": null}}},
{"mark": {"type": "text", "text": "创业板指", "align": "left", "baseline": "middle", "dx": 22, "font": "Noto Sans CJK SC", "fontSize": 20, "fontWeight": "bold", "color": "#f5f54a"},
 "encoding": {"x": {"datum": "a", "type": "nominal", "scale": {"type": "point", "domain": ["a","b","c"], "padding": 0}, "axis": null},
   "y": {"datum": "r1", "type": "nominal", "scale": {"type": "point", "domain": ["r1","r2"], "padding": 0.7115, "align": 0.473}, "axis": null}}},
{"mark": {"type": "text", "text": "399006", "align": "left", "baseline": "middle", "dx": -26, "dy": 4, "font": "Liberation Sans", "fontSize": 19, "color": "#c8c8c8"},
 "encoding": {"x": {"datum": "b", "type": "nominal", "scale": {"type": "point", "domain": ["a","b","c"], "padding": 0}, "axis": null},
   "y": {"datum": "r1", "type": "nominal", "scale": {"type": "point", "domain": ["r1","r2"], "padding": 0.7115, "align": 0.473}, "axis": null}}},
{"mark": {"type": "text", "text": "1831.59", "align": "left", "baseline": "middle", "dx": 5, "font": "Liberation Sans", "fontSize": 18, "fontWeight": "bold", "color": "#32e632"},
 "encoding": {"x": {"datum": "a", "type": "nominal", "scale": {"type": "point", "domain": ["a","b","c"], "padding": 0}, "axis": null},
   "y": {"datum": "r2", "type": "nominal", "scale": {"type": "point", "domain": ["r1","r2"], "padding": 0.7115, "align": 0.473}, "axis": null}}},
{"mark": {"type": "text", "text": "▼-11.24", "align": "left", "baseline": "middle", "dx": -30, "font": "Liberation Sans, DejaVu Sans", "fontSize": 18, "fontWeight": "bold", "color": "#32e632"},
 "encoding": {"x": {"datum": "b", "type": "nominal", "scale": {"type": "point", "domain": ["a","b","c"], "padding": 0}, "axis": null},
   "y": {"datum": "r2", "type": "nominal", "scale": {"type": "point", "domain": ["r1","r2"], "padding": 0.7115, "align": 0.473}, "axis": null}}},
{"mark": {"type": "text", "text": "-0.61%", "align": "right", "baseline": "middle", "dx": -3, "font": "Liberation Sans", "fontSize": 18, "fontWeight": "bold", "color": "#32e632"},
 "encoding": {"x": {"datum": "c", "type": "nominal", "scale": {"type": "point", "domain": ["a","b","c"], "padding": 0}, "axis": null},
   "y": {"datum": "r2", "type": "nominal", "scale": {"type": "point", "domain": ["r1","r2"], "padding": 0.7115, "align": 0.473}, "axis": null}}}
]
},
{
"width": 280, "height": 22,
"view": {"stroke": "#b42828", "strokeWidth": 1},
"data": {"values": [{"n": 1, "label": "深总市值", "value": "233251亿", "tone": "info"}]},
"encoding": {"y": {"field": "n", "type": "ordinal", "scale": {"type": "point", "domain": [1], "padding": 0, "align": 0.682}, "axis": null}},
"layer": [
{"mark": {"type": "text", "align": "left", "baseline": "middle", "dx": 5, "dy": 1, "font": "Noto Sans CJK SC", "fontSize": 18, "color": "#d0d0d0"},
 "encoding": {"x": {"datum": "a", "type": "nominal", "scale": {"type": "point", "domain": ["a","b","c"], "padding": 0}, "axis": null}, "text": {"field": "label"}}},
{"mark": {"type": "text", "align": "right", "baseline": "middle", "dx": -3, "font": "Liberation Sans, Noto Sans CJK SC", "fontSize": 20},
 "encoding": {"x": {"datum": "c", "type": "nominal", "scale": {"type": "point", "domain": ["a","b","c"], "padding": 0}, "axis": null}, "text": {"field": "value"},
   "color": {"field": "tone", "type": "nominal", "scale": {"domain": ["up","down","prev","amount","info"], "range": ["#ff4646","#32e632","#ffffff","#c8c83c","#c8c8c8"]}, "legend": null}}}
]
},
{
"width": 280, "height": 117,
"view": {"stroke": "#b42828", "strokeWidth": 1},
"data": {"values": [
{"n": 1, "label": "A股成交", "value": "2961.9280亿", "tone": "amount"},
{"n": 2, "label": "B股成交", "value": "1.8559亿", "tone": "amount"},
{"n": 3, "label": "国债成交", "value": "804.9757亿", "tone": "amount"},
{"n": 4, "label": "基金成交", "value": "74.5394亿", "tone": "amount"},
{"n": 5, "label": "权证成交", "value": "", "tone": "amount"},
{"n": 6, "label": "债券成交", "value": "3.7645亿", "tone": "amount"}
]},
"encoding": {"y": {"field": "n", "type": "ordinal", "scale": {"type": "point", "domain": [1,2,3,4,5,6], "padding": 0.662, "align": 0.714}, "axis": null}},
"layer": [
{"mark": {"type": "text", "align": "left", "baseline": "middle", "dx": 5, "dy": 1, "font": "Noto Sans CJK SC", "fontSize": 18, "color": "#d0d0d0"},
 "encoding": {"x": {"datum": "a", "type": "nominal", "scale": {"type": "point", "domain": ["a","b","c"], "padding": 0}, "axis": null}, "text": {"field": "label"}}},
{"mark": {"type": "text", "align": "right", "baseline": "middle", "dx": -3, "font": "Liberation Sans, Noto Sans CJK SC", "fontSize": 20},
 "encoding": {"x": {"datum": "c", "type": "nominal", "scale": {"type": "point", "domain": ["a","b","c"], "padding": 0}, "axis": null}, "text": {"field": "value"},
   "color": {"field": "tone", "type": "nominal", "scale": {"domain": ["up","down","prev","amount","info"], "range": ["#ff4646","#32e632","#ffffff","#c8c83c","#c8c8c8"]}, "legend": null}}}
]
},
{
"width": 280, "height": 174,
"view": {"stroke": "#b42828", "strokeWidth": 1},
"data": {"values": [
{"n": 1, "label": "今日开盘", "value": "1842.15", "tone": "down"},
{"n": 2, "label": "昨日收盘", "value": "1842.83", "tone": "prev"},
{"n": 3, "label": "指数振幅", "value": "22.28/1.21%", "tone": "info"},
{"n": 4, "label": "总成交额", "value": "860.7298亿", "tone": "amount"},
{"n": 5, "label": "总成交量", "value": "47377871", "tone": "amount"},
{"n": 6, "label": "最高指数", "value": "1850.82", "tone": "up"},
{"n": 7, "label": "最低指数", "value": "1828.54", "tone": "down"},
{"n": 8, "label": "指数量比", "value": "1.11", "tone": "up"},
{"n": 9, "label": "深证换手", "value": "1.56%", "tone": "info"}
]},
"encoding": {"y": {"field": "n", "type": "ordinal", "scale": {"type": "point", "domain": [1,2,3,4,5,6,7,8,9], "padding": 0.7515, "align": 0.6}, "axis": null}},
"layer": [
{"mark": {"type": "text", "align": "left", "baseline": "middle", "dx": 5, "dy": 1, "font": "Noto Sans CJK SC", "fontSize": 18, "color": "#d0d0d0"},
 "encoding": {"x": {"datum": "a", "type": "nominal", "scale": {"type": "point", "domain": ["a","b","c"], "padding": 0}, "axis": null}, "text": {"field": "label"}}},
{"mark": {"type": "text", "align": "right", "baseline": "middle", "dx": -3, "font": "Liberation Sans, Noto Sans CJK SC", "fontSize": 20},
 "encoding": {"x": {"datum": "c", "type": "nominal", "scale": {"type": "point", "domain": ["a","b","c"], "padding": 0}, "axis": null}, "text": {"field": "value"},
   "color": {"field": "tone", "type": "nominal", "scale": {"domain": ["up","down","prev","amount","info"], "range": ["#ff4646","#32e632","#ffffff","#c8c83c","#c8c8c8"]}, "legend": null}}}
]
},
{
"width": 280, "height": 24,
"view": {"stroke": "#b42828", "strokeWidth": 1},
"data": {"values": [{"n": 1, "up": "214", "down": "404"}]},
"encoding": {"y": {"field": "n", "type": "ordinal", "scale": {"type": "point", "domain": [1], "padding": 0, "align": 0.6875}, "axis": null}},
"layer": [
{"mark": {"type": "text", "text": "涨家数", "align": "left", "baseline": "middle", "dx": 5, "dy": 1, "font": "Noto Sans CJK SC", "fontSize": 18, "color": "#d0d0d0"},
 "encoding": {"x": {"datum": "a", "type": "nominal", "scale": {"type": "point", "domain": ["a","b","c"], "padding": 0}, "axis": null}}},
{"mark": {"type": "text", "align": "right", "baseline": "middle", "dx": -3, "font": "Liberation Sans", "fontSize": 20, "color": "#ff4646"},
 "encoding": {"x": {"datum": "b", "type": "nominal", "scale": {"type": "point", "domain": ["a","b","c"], "padding": 0}, "axis": null}, "text": {"field": "up"}}},
{"mark": {"type": "text", "text": "跌家数", "align": "left", "baseline": "middle", "dx": 4, "dy": 1, "font": "Noto Sans CJK SC", "fontSize": 18, "color": "#d0d0d0"},
 "encoding": {"x": {"datum": "b", "type": "nominal", "scale": {"type": "point", "domain": ["a","b","c"], "padding": 0}, "axis": null}}},
{"mark": {"type": "text", "align": "right", "baseline": "middle", "dx": -3, "font": "Liberation Sans", "fontSize": 20, "color": "#32e632"},
 "encoding": {"x": {"datum": "c", "type": "nominal", "scale": {"type": "point", "domain": ["a","b","c"], "padding": 0}, "axis": null}, "text": {"field": "down"}}}
]
},
{
"width": 280, "height": 263,
"view": {"stroke": "#b42828", "strokeWidth": 1},
"data": {"values": [
{"n": 1, "t": "14:56", "p": "1830.98", "q": "3784万"},
{"n": 2, "t": "", "p": "1831.04", "q": "3806万"},
{"n": 3, "t": "", "p": "1831.29", "q": "4020万"},
{"n": 4, "t": "", "p": "1831.01", "q": "3701万"},
{"n": 5, "t": "", "p": "1831.20", "q": "3612万"},
{"n": 6, "t": "", "p": "1830.78", "q": "3338万"},
{"n": 7, "t": "", "p": "1830.76", "q": "3774万"},
{"n": 8, "t": "", "p": "1830.87", "q": "3393万"},
{"n": 9, "t": "", "p": "1831.06", "q": "3003万"},
{"n": 10, "t": "", "p": "1831.09", "q": "3484万"},
{"n": 11, "t": "", "p": "1831.26", "q": "3614万"},
{"n": 12, "t": "", "p": "1831.16", "q": "7228万"},
{"n": 13, "t": "14:59", "p": "1831.59", "q": "0.0"},
{"n": 14, "t": "15:00", "p": "1831.59", "q": "12.0亿"}
]},
"layer": [
{"data": {"values": [{"n": 12}, {"n": 13}]},
 "mark": {"type": "rule", "color": "#9a2020", "strokeDash": [1, 3]},
 "encoding": {"y": {"field": "n", "type": "ordinal", "bandPosition": 0.75, "scale": {"type": "band", "domain": [1,2,3,4,5,6,7,8,9,10,11,12,13,14], "paddingInner": 0, "paddingOuter": 0.338}, "axis": null}}},
{"mark": {"type": "text", "align": "left", "baseline": "middle", "dx": 5, "font": "Liberation Sans", "fontSize": 20, "color": "#c8c8c8"},
 "encoding": {"x": {"datum": "a", "type": "nominal", "scale": {"type": "point", "domain": ["a","b","c"], "padding": 0}, "axis": null},
   "y": {"field": "n", "type": "ordinal", "bandPosition": 0.5, "scale": {"type": "band", "domain": [1,2,3,4,5,6,7,8,9,10,11,12,13,14], "paddingInner": 0, "paddingOuter": 0.338}, "axis": null}, "text": {"field": "t"}}},
{"mark": {"type": "text", "align": "right", "baseline": "middle", "dx": 20, "font": "Liberation Sans", "fontSize": 20, "color": "#32e632"},
 "encoding": {"x": {"datum": "b", "type": "nominal", "scale": {"type": "point", "domain": ["a","b","c"], "padding": 0}, "axis": null},
   "y": {"field": "n", "type": "ordinal", "bandPosition": 0.5, "scale": {"type": "band", "domain": [1,2,3,4,5,6,7,8,9,10,11,12,13,14], "paddingInner": 0, "paddingOuter": 0.338}, "axis": null}, "text": {"field": "p"}}},
{"mark": {"type": "text", "align": "right", "baseline": "middle", "dx": -3, "font": "Liberation Sans, Noto Sans CJK SC", "fontSize": 20, "color": "#c8c83c"},
 "encoding": {"x": {"datum": "c", "type": "nominal", "scale": {"type": "point", "domain": ["a","b","c"], "padding": 0}, "axis": null},
   "y": {"field": "n", "type": "ordinal", "bandPosition": 0.5, "scale": {"type": "band", "domain": [1,2,3,4,5,6,7,8,9,10,11,12,13,14], "paddingInner": 0, "paddingOuter": 0.338}, "axis": null}, "text": {"field": "q"}}}
]
}
]
}
]
}
